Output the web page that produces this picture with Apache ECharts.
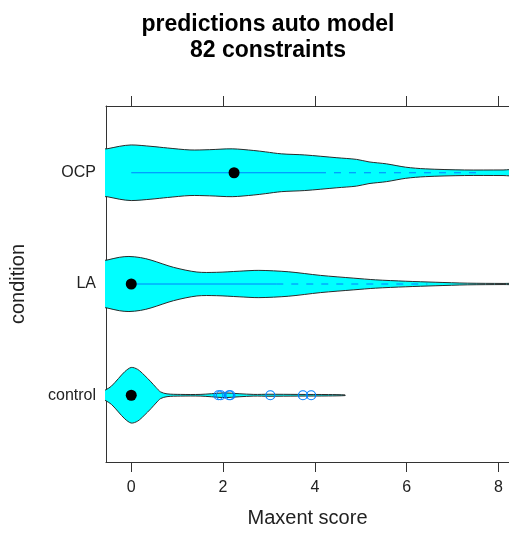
<!DOCTYPE html>
<html>
<head>
<meta charset="utf-8">
<script src="https://cdn.jsdelivr.net/npm/echarts@6/dist/echarts.min.js"></script>
<style>
  html, body { margin: 0; padding: 0; background: #ffffff; }
  #chart { width: 509px; height: 533px; }
</style>
</head>
<body>
<div id="chart"></div>
<script>
// Conditions, bottom to top
const conditions = ['control', 'LA', 'OCP'];
const xTicks = [0, 2, 4, 6, 8];

// Density outline of each condition: score grid and relative density (peak = 1)
const controlScore   = [-0.7, -0.55, -0.43, -0.28, -0.14, 0, 0.14, 0.28, 0.43, 0.54, 0.64, 0.78, 1.07, 1.5, 1.75, 2.03, 2.35, 2.67, 3.0, 3.63, 4.3, 4.66];
const controlDensity = [0.08, 0.2, 0.33, 0.6, 0.85, 1.0, 0.93, 0.73, 0.48, 0.28, 0.12, 0.05, 0.03, 0.03, 0.055, 0.085, 0.055, 0.03, 0.036, 0.03, 0.025, 0.012];

const laScore   = [-0.7, -0.53, -0.26, -0.05, 0.2, 0.43, 0.92, 1.43, 1.86, 2.35, 2.78, 3.42, 4.12, 4.85, 5.32, 5.98, 6.62, 7.33, 8.1, 8.4];
const laDensity = [0.8, 0.86, 0.96, 0.99, 0.95, 0.86, 0.6, 0.43, 0.42, 0.46, 0.49, 0.44, 0.31, 0.21, 0.15, 0.1, 0.064, 0.03, 0.02, 0.02];

const ocpScore   = [-0.7, -0.53, -0.26, 0, 0.43, 0.79, 1.28, 1.71, 2.2, 2.67, 2.93, 3.27, 3.78, 4.48, 4.91, 5.18, 5.56, 5.98, 6.41, 7.26, 8.1, 8.4];
const ocpDensity = [0.84, 0.86, 0.95, 1.0, 0.95, 0.89, 0.82, 0.83, 0.86, 0.8, 0.75, 0.68, 0.64, 0.54, 0.48, 0.39, 0.32, 0.2, 0.14, 0.1, 0.1, 0.1];

// Box summaries (same order as conditions)
const lowerHinge   = [0, 0, 0];
const medians      = [0, 0, 2.24];
const upperHinge   = [0, 3.16, 4.09];
const upperWhisker = [0, 6.45, 7.68];

// Points beyond the whiskers
const controlOutliers = [1.90, 1.95, 2.13, 2.16, 3.03, 3.74, 3.92];

const profiles = [
  { score: controlScore, density: controlDensity },
  { score: laScore, density: laDensity },
  { score: ocpScore, density: ocpDensity }
];
const HALF_WIDTH = 0.25; // violin half-height in y units at peak density

const FONT = '"Liberation Sans", Arial, sans-serif';
const BOX_BLUE = '#0080ff';

function renderViolin(params, api) {
  const i = params.dataIndex;
  const p = profiles[i];
  const yc = i + 1;
  const upper = p.score.map((s, k) => api.coord([s, yc + p.density[k] * HALF_WIDTH]));
  const lower = p.score.map((s, k) => api.coord([s, yc - p.density[k] * HALF_WIDTH])).reverse();
  return {
    type: 'polygon',
    shape: { points: upper.concat(lower), smooth: 0.3 },
    style: { fill: '#00ffff', stroke: '#2a2a2a', lineWidth: 1 }
  };
}

function renderBox(params, api) {
  const i = params.dataIndex;
  const yc = i + 1;
  const children = [];
  const a = api.coord([lowerHinge[i], yc]);
  const b = api.coord([upperHinge[i], yc]);
  const c = api.coord([upperWhisker[i], yc]);
  if (upperHinge[i] > lowerHinge[i]) {
    children.push({
      type: 'line',
      shape: { x1: a[0], y1: a[1], x2: b[0], y2: b[1] },
      style: { stroke: BOX_BLUE, lineWidth: 1 }
    });
  }
  if (upperWhisker[i] > upperHinge[i]) {
    children.push({
      type: 'line',
      shape: { x1: b[0], y1: b[1], x2: c[0], y2: c[1] },
      style: { stroke: BOX_BLUE, lineWidth: 1, lineDash: [7, 8] }
    });
  }
  return { type: 'group', children: children };
}

const chart = echarts.init(document.getElementById('chart'), null, { renderer: 'canvas' });

const axisLineStyle = { color: '#333333', width: 1 };

chart.setOption({
  animation: false,
  backgroundColor: '#ffffff',
  graphic: [{
    type: 'text',
    x: 268,
    y: 12,
    style: {
      text: 'predictions auto model\n82 constraints',
      font: 'bold 23px ' + FONT,
      fill: '#000000',
      textAlign: 'center',
      textVerticalAlign: 'top',
      lineHeight: 26
    }
  }],
  grid: { left: 104, right: -7, top: 106, bottom: 69 },
  xAxis: [
    {
      type: 'value', position: 'bottom', min: -0.55, max: 8.23,
      axisLine: { show: true, onZero: false, lineStyle: axisLineStyle },
      axisTick: { show: true, inside: false, length: 10, customValues: xTicks, lineStyle: axisLineStyle },
      axisLabel: { customValues: xTicks, fontSize: 16, fontFamily: FONT, color: '#222222', margin: 18 },
      splitLine: { show: false },
      name: 'Maxent score', nameLocation: 'middle', nameGap: 46,
      nameTextStyle: { fontSize: 20, fontFamily: FONT, color: '#222222' }
    },
    {
      type: 'value', position: 'top', min: -0.55, max: 8.23,
      axisLine: { show: true, onZero: false, lineStyle: axisLineStyle },
      axisTick: { show: true, inside: false, length: 10, customValues: xTicks, lineStyle: axisLineStyle },
      axisLabel: { show: false },
      splitLine: { show: false }
    }
  ],
  yAxis: {
    type: 'value', min: 0.4, max: 3.6,
    axisLine: { show: true, onZero: false, lineStyle: axisLineStyle },
    axisTick: { show: false },
    axisLabel: {
      customValues: [1, 2, 3],
      formatter: v => conditions[Math.round(v) - 1],
      fontSize: 16, fontFamily: FONT, color: '#222222', margin: 10
    },
    splitLine: { show: false },
    name: 'condition', nameLocation: 'middle', nameGap: 78, nameRotate: 90,
    nameTextStyle: { fontSize: 20, fontFamily: FONT, color: '#222222' }
  },
  series: [
    {
      type: 'custom',
      clip: true,
      renderItem: renderViolin,
      data: conditions.map((c, i) => [medians[i], i + 1]),
      z: 2
    },
    {
      type: 'custom',
      clip: true,
      renderItem: renderBox,
      data: conditions.map((c, i) => [medians[i], i + 1]),
      z: 3
    },
    {
      type: 'scatter',
      data: conditions.map((c, i) => [medians[i], i + 1]),
      symbol: 'circle',
      symbolSize: 11,
      itemStyle: { color: '#000000', opacity: 1 },
      z: 5
    },
    {
      type: 'scatter',
      data: controlOutliers.map(v => [v, 1]),
      symbol: 'circle',
      symbolSize: 9,
      itemStyle: { color: 'rgba(0,0,0,0)', borderColor: BOX_BLUE, borderWidth: 1.2, opacity: 1 },
      z: 6
    }
  ]
});
</script>
</body>
</html>
